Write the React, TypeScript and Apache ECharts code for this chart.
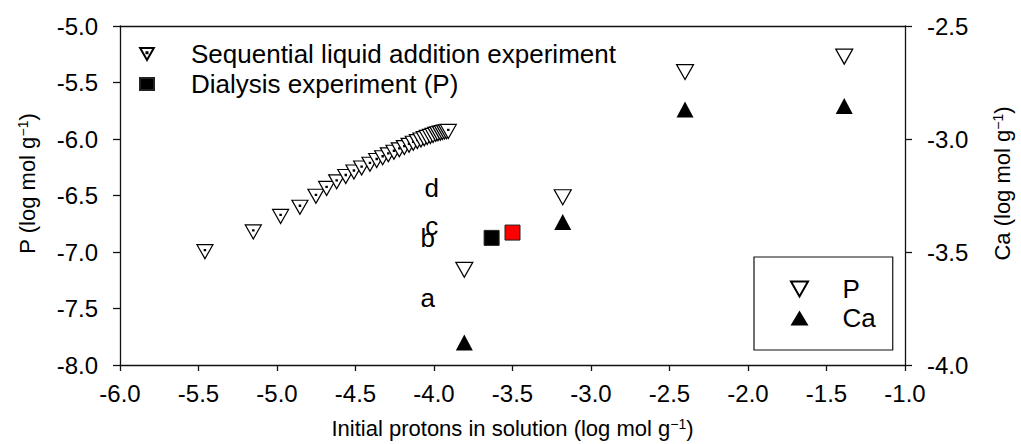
import { useEffect, useRef } from 'react';
import * as echarts from 'echarts';

// Sequential liquid addition experiment: initial protons vs P
const seqX = [
  -5.459, -5.151, -4.977, -4.854, -4.752, -4.684, -4.62, -4.562, -4.51, -4.461, -4.408,
  -4.365, -4.327, -4.291, -4.255, -4.221, -4.189, -4.159, -4.132, -4.106, -4.083, -4.062,
  -4.043, -4.023, -4.006, -3.989, -3.975, -3.96, -3.947, -3.934, -3.921, -3.909,
];
const seqP = [
  -6.997, -6.822, -6.685, -6.604, -6.507, -6.437, -6.379, -6.332, -6.292, -6.257, -6.224,
  -6.19, -6.166, -6.14, -6.117, -6.096, -6.076, -6.056, -6.038, -6.023, -6.009, -5.997,
  -5.986, -5.977, -5.968, -5.959, -5.953, -5.948, -5.942, -5.939, -5.936, -5.933,
];

// Separate samples: P (left axis) and Ca (right axis)
const sampleX = [-3.807, -3.18, -2.401, -1.387];
const sampleP = [-7.158, -6.516, -5.408, -5.271];
const sampleCa = [-3.9, -3.367, -2.869, -2.854];

// Dialysis experiment (P)
const dialX = [-3.633, -3.5];
const dialP = [-6.875, -6.828];
const dialColors = ['#000000', '#ff0000'];

// Letter annotations
const letters = ['a', 'b', 'c', 'd'];
const letterX = [-4.04, -4.04, -4.015, -4.015];
const letterY = [-7.405, -6.88, -6.77, -6.43];

// Axis ranges
const xRange = [-6, -1];
const pRange = [-8, -5];
const caRange = [-4, -2.5];
const tickStep = 0.5;

const SEQ_NAME = 'Sequential liquid addition experiment';
const DIAL_NAME = 'Dialysis experiment (P)';

const FONT = 'Liberation Sans, Arial, Helvetica, sans-serif';
const DOT_TRI = 'path://M0,0L16,0L8,14ZM7.4,4.9L8.6,4.9L8.6,6.1L7.4,6.1Z';
const OPEN_TRI = 'path://M0,0L17,0L8.5,15Z';

const axisLine = { show: true, lineStyle: { color: '#111', width: 1.3 } };
const axisTick = { show: true, inside: false, length: 7, lineStyle: { color: '#111', width: 1.3 } };
const tickLabel = (margin: number) => ({
  show: true,
  margin,
  fontSize: 24,
  color: '#000',
  fontFamily: FONT,
  showMinLabel: true,
  showMaxLabel: true,
  formatter: (v: number) => v.toFixed(1),
});
const supRich = {
  sup: { fontSize: 14, lineHeight: 14, verticalAlign: 'top', color: '#000', fontFamily: FONT },
};
const xNameStyle = { fontSize: 22, color: '#000', fontFamily: FONT, lineHeight: 22, rich: supRich };
// vertical titles sit a little above the axis centre
const yNameStyle = { ...xNameStyle, padding: [0, 0, 0, 24] };

export default function App() {
  const ref = useRef<HTMLDivElement>(null);

  useEffect(() => {
    if (!ref.current) return;
    const chart = echarts.init(ref.current, undefined, { renderer: 'svg' });

    const option = {
      animation: false,
      backgroundColor: '#ffffff',
      grid: { left: 120, right: 115, top: 26, bottom: 77, containLabel: false },
      legend: [
        {
          orient: 'vertical',
          left: 139,
          top: 41,
          itemWidth: 14,
          itemHeight: 12,
          itemGap: 4,
          padding: 0,
          selectedMode: false,
          textStyle: { fontSize: 26, color: '#000', fontFamily: FONT, padding: [0, 0, 0, 32] },
          data: [
            { name: SEQ_NAME, icon: DOT_TRI },
            { name: DIAL_NAME, icon: 'rect' },
          ],
        },
        {
          orient: 'vertical',
          left: 754,
          top: 257,
          itemWidth: 18,
          itemHeight: 15,
          itemGap: 3,
          padding: [19, 17, 19, 36],
          borderColor: '#111',
          borderWidth: 1.2,
          selectedMode: false,
          textStyle: { fontSize: 26, color: '#000', fontFamily: FONT, padding: [0, 0, 0, 29] },
          data: [
            { name: 'P', icon: OPEN_TRI },
            { name: 'Ca', icon: 'triangle' },
          ],
        },
      ],
      xAxis: [
        {
          type: 'value',
          position: 'bottom',
          min: xRange[0],
          max: xRange[1],
          interval: tickStep,
          axisLine,
          axisTick: { ...axisTick, length: 6 },
          axisLabel: tickLabel(16),
          splitLine: { show: false },
          name: 'Initial protons in solution (log mol g{sup|\u22121})',
          nameLocation: 'middle',
          nameGap: 52,
          nameTextStyle: xNameStyle,
        },
        {
          type: 'value',
          position: 'top',
          min: xRange[0],
          max: xRange[1],
          interval: tickStep,
          axisLine,
          axisTick: { show: false },
          axisLabel: { show: false },
          splitLine: { show: false },
        },
      ],
      yAxis: [
        {
          type: 'value',
          position: 'left',
          min: pRange[0],
          max: pRange[1],
          interval: tickStep,
          axisLine,
          axisTick,
          axisLabel: tickLabel(22),
          splitLine: { show: false },
          name: 'P (log mol g{sup|\u22121})',
          nameLocation: 'middle',
          nameRotate: 90,
          nameGap: 82,
          nameTextStyle: yNameStyle,
        },
        {
          type: 'value',
          position: 'right',
          min: caRange[0],
          max: caRange[1],
          interval: tickStep,
          axisLine,
          axisTick,
          axisLabel: tickLabel(22),
          splitLine: { show: false },
          name: 'Ca (log mol g{sup|\u22121})',
          nameLocation: 'middle',
          nameRotate: 90,
          nameGap: 86,
          nameTextStyle: yNameStyle,
        },
      ],
      series: [
        {
          name: SEQ_NAME,
          type: 'scatter',
          xAxisIndex: 0,
          yAxisIndex: 0,
          symbol: DOT_TRI,
          symbolSize: [16, 14],
          itemStyle: { color: '#ffffff', borderColor: '#000', borderWidth: 1.2, opacity: 1 },
          data: seqX.map((x, i) => [x, seqP[i]]),
          silent: true,
          z: 3,
        },
        {
          name: DIAL_NAME,
          type: 'scatter',
          xAxisIndex: 0,
          yAxisIndex: 0,
          symbol: 'rect',
          symbolSize: 15,
          itemStyle: { color: '#000', borderColor: '#222', borderWidth: 1, opacity: 1 },
          data: dialX.map((x, i) => ({
            value: [x, dialP[i]],
            itemStyle: { color: dialColors[i], borderColor: '#222', borderWidth: 1, opacity: 1 },
          })),
          silent: true,
          z: 3,
        },
        {
          name: 'P',
          type: 'scatter',
          xAxisIndex: 0,
          yAxisIndex: 0,
          symbol: OPEN_TRI,
          symbolSize: [17, 15],
          itemStyle: { color: '#ffffff', borderColor: '#000', borderWidth: 1.2, opacity: 1 },
          data: sampleX.map((x, i) => [x, sampleP[i]]),
          silent: true,
          z: 3,
        },
        {
          name: 'Ca',
          type: 'scatter',
          xAxisIndex: 0,
          yAxisIndex: 1,
          symbol: 'triangle',
          symbolSize: [17, 16],
          itemStyle: { color: '#000', opacity: 1 },
          data: sampleX.map((x, i) => [x, sampleCa[i]]),
          silent: true,
          z: 3,
        },
        {
          name: 'letters',
          type: 'scatter',
          xAxisIndex: 0,
          yAxisIndex: 0,
          symbolSize: 0,
          silent: true,
          itemStyle: { opacity: 1 },
          label: {
            show: true,
            position: 'inside',
            formatter: (p: any) => p.name,
            fontSize: 26,
            color: '#000',
            opacity: 1,
            fontFamily: FONT,
          },
          data: letters.map((l, i) => ({ name: l, value: [letterX[i], letterY[i]] })),
          z: 2,
        },
      ],
    };

    chart.setOption(option as any);
    return () => chart.dispose();
  }, []);

  return (
    <div
      ref={ref}
      style={{ position: 'absolute', left: 0, top: 0, width: 1021, height: 444, background: '#fff' }}
    />
  );
}
